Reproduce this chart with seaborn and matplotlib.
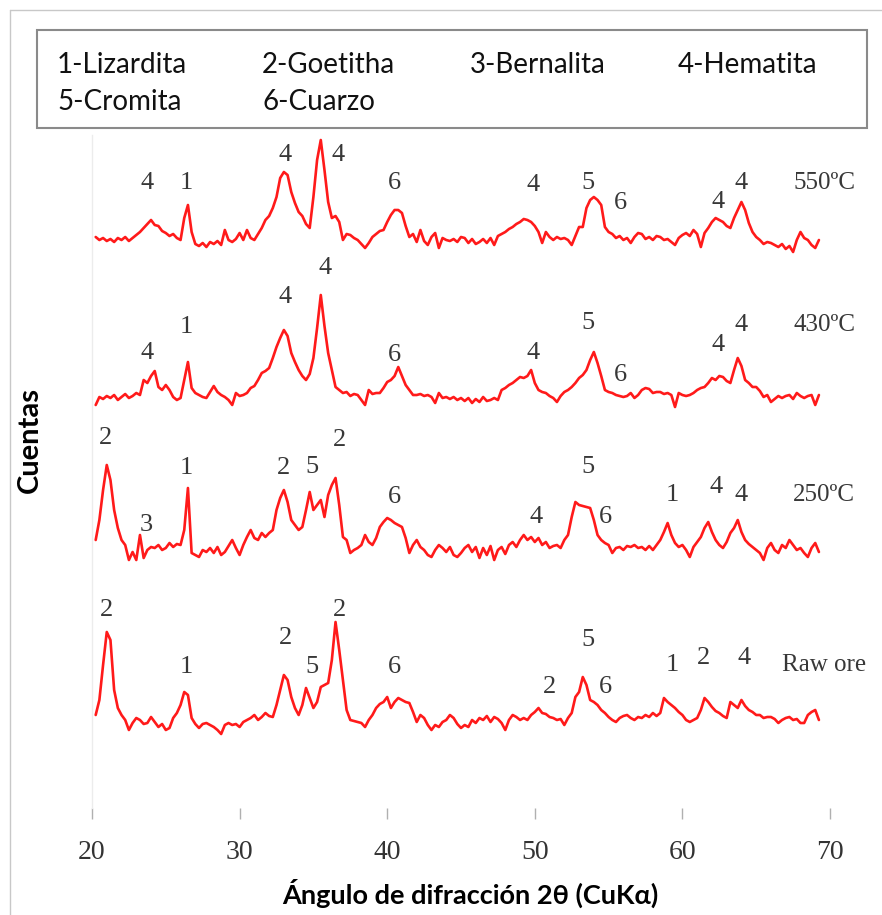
import numpy as np
import pandas as pd
import matplotlib
matplotlib.use("Agg")
import matplotlib.pyplot as plt
from matplotlib.patches import Rectangle
from matplotlib.lines import Line2D
import seaborn as sns

# 2θ sampling of the diffractograms (degrees)
angles = np.arange(20.25, 69.26, 0.25)

# Intensities above each pattern's own baseline (counts, arbitrary units)
i_550 = [3, 0, 2, -1, 1, -2, 2, 0, 3, -1, 2, 5, 8, 12, 16, 20,
         15, 14, 9, 7, 4, 6, 2, 0, 22, 35, 8, -4, -6, -3, -7, -2,
         -4, -1, -5, 10, 0, -2, 1, 7, 0, 10, 2, 0, 6, 12, 20, 24,
         32, 43, 62, 68, 65, 48, 37, 28, 24, 16, 12, 43, 80, 100, 70, 38,
         22, 24, 18, 0, 6, 5, 2, 0, -4, -8, -3, 3, 6, 9, 10, 18,
         25, 30, 30, 27, 14, 3, 6, -2, 10, -1, -5, 3, 7, -8, 2, 0,
         -1, 1, -2, 3, 2, -3, 1, -4, -2, 1, -3, 2, -5, 4, 6, 8,
         11, 13, 16, 18, 21, 20, 18, 14, 8, -3, 8, 3, 0, 3, 1, 2,
         0, -5, 4, 13, 13, 32, 40, 43, 40, 35, 13, 8, 6, 2, 4, 0,
         2, -3, 3, 7, 6, 1, 3, 0, 4, 3, 0, 1, -2, -5, 2, 5,
         7, 4, 10, 6, -7, 7, 12, 18, 22, 20, 18, 14, 12, 22, 30, 38,
         30, 17, 8, 3, 0, -4, -2, -3, -5, -7, -4, -9, -6, -12, 0, 8,
         2, 0, -5, -8, 0]

i_430 = [-7, 1, -1, 2, 0, 3, -2, 1, 4, 0, 2, 5, 3, 18, 15, 22,
         27, 11, 8, 13, 8, 1, -2, 0, 18, 36, 10, 5, 3, 1, 0, 6,
         12, 6, 3, 1, -2, -7, 5, 2, 3, 5, 10, 12, 18, 25, 27, 30,
         40, 51, 60, 68, 62, 45, 36, 28, 22, 18, 24, 40, 70, 103, 72, 45,
         28, 11, 8, 5, 6, 2, 4, 3, -2, -7, 8, 4, 5, 5, 10, 16,
         18, 22, 31, 22, 13, 8, 3, 3, 4, 2, 3, 1, -5, 5, 0, 1,
         -1, 1, -2, 0, -3, 0, -5, -1, -4, 1, -3, -2, 0, -2, 8, 10,
         13, 15, 18, 21, 20, 22, 28, 15, 8, 6, 5, 2, 0, -4, 2, 6,
         8, 11, 15, 20, 23, 28, 38, 46, 35, 22, 8, 6, 5, 3, 2, 1,
         2, 5, 0, 3, 8, 10, 9, 5, 6, 6, 4, 5, 3, -9, 5, 3,
         2, 3, 5, 8, 10, 11, 15, 20, 18, 22, 21, 17, 15, 28, 40, 32,
         18, 15, 11, 11, 7, 1, 3, -4, -1, 2, 0, 2, 3, -1, 5, 2,
         0, 2, 3, -7, 3]

i_250 = [10, 30, 60, 85, 70, 40, 22, 10, 5, -10, -2, -10, 15, -8, 0, 3,
         2, 5, 0, 2, 7, 3, 6, 5, 20, 62, -3, -5, -7, 0, -2, 2,
         -3, 3, -5, -2, 4, 10, 2, -5, 5, 13, 20, 12, 10, 17, 13, 17,
         20, 40, 52, 60, 48, 30, 25, 20, 23, 40, 58, 40, 45, 50, 33, 55,
         65, 72, 45, 13, 10, -3, 0, 2, 5, 15, 8, 5, 12, 23, 28, 32,
         30, 27, 25, 23, 12, -3, 5, 10, 3, 0, -5, -7, 0, 5, 2, -2,
         3, -5, -7, -3, 2, 5, -2, 3, -8, 2, -5, 4, -10, 0, 3, -4,
         5, 8, 3, 10, 15, 10, 13, 8, 12, 5, 8, 2, 4, 5, 2, 10,
         15, 33, 48, 45, 44, 43, 42, 30, 15, 10, 7, 5, -3, 2, 3, 0,
         4, 3, 5, 2, 3, 0, 4, 0, 5, 10, 18, 27, 15, 7, 3, 5,
         0, -7, 3, 8, 13, 22, 28, 18, 10, 5, 2, 8, 17, 22, 30, 18,
         10, 6, 3, 0, -3, -10, 2, 7, 0, -3, 5, 2, 10, 5, 0, 2,
         -3, -7, 2, 7, -2]

i_raw = [5, 20, 55, 88, 80, 30, 12, 5, 0, -10, -3, 2, 0, -4, -3, 3,
         -2, -7, -4, -10, -8, 2, 7, 15, 28, 25, 2, -4, -8, -4, -3, -5,
         -7, -10, -14, -5, -3, -5, -4, -7, -2, 0, 2, 5, 0, 3, 7, 4,
         3, 15, 30, 45, 40, 23, 12, 5, 15, 32, 22, 12, 18, 33, 35, 37,
         60, 98, 70, 40, 10, 0, -1, -2, -3, -7, 0, 5, 12, 16, 18, 23,
         12, 18, 22, 20, 18, 17, 8, -2, 5, 2, -5, -10, -5, -7, -2, 0,
         5, 2, -4, -8, -5, -7, 0, -3, 2, 0, 4, -2, 3, 1, -3, -10,
         0, 5, 3, 0, 2, 0, 5, 8, 12, 7, 6, 3, 2, 0, 1, -5,
         2, 7, 23, 28, 43, 35, 20, 18, 15, 10, 7, 3, 0, -2, 2, 4,
         5, 2, 0, 3, 2, 5, 3, 7, 4, 7, 22, 18, 15, 12, 8, 5,
         0, -2, 0, 2, 10, 22, 18, 13, 9, 7, 4, 2, 18, 15, 12, 20,
         14, 10, 8, 5, 5, 2, 3, 3, 1, -3, 0, 2, 3, 0, 1, -3,
         -3, 5, 8, 10, 0]

samples = ["550ºC", "430ºC", "250ºC", "Raw ore"]
intensities = [i_550, i_430, i_250, i_raw]

# Phase assignments: peak angle (2θ) and phase number
peaks_550_pos = [23.7, 26.4, 33.1, 36.7, 40.5, 49.9, 53.6, 55.8, 62.4, 64.0]
peaks_550_txt = ["4", "1", "4", "4", "6", "4", "5", "6", "4", "4"]
peaks_430_pos = [23.7, 26.4, 33.1, 35.8, 40.5, 49.9, 53.6, 55.8, 62.4, 64.0]
peaks_430_txt = ["4", "1", "4", "4", "6", "4", "5", "6", "4", "4"]
peaks_250_pos = [20.9, 23.7, 26.4, 33.0, 34.9, 36.8, 40.5, 50.1, 53.6, 54.8, 59.3, 62.3, 64.0]
peaks_250_txt = ["2", "3", "1", "2", "5", "2", "6", "4", "5", "6", "1", "4", "4"]
peaks_raw_pos = [21.0, 26.4, 33.1, 34.9, 36.8, 40.5, 51.0, 53.6, 54.8, 59.3, 61.4, 64.2]
peaks_raw_txt = ["2", "1", "2", "5", "2", "6", "2", "5", "6", "1", "2", "4"]

phases = ["1-Lizardita", "2-Goetitha", "3-Bernalita", "4-Hematita",
          "5-Cromita", "6-Cuarzo"]
x_ticks = [20, 30, 40, 50, 60, 70]

# ---- layout (pixels of the 882 x 915 canvas) ----
W, H = 882, 915
offsets = [568, 410, 258, 88]
label_rise = {
    "550ºC": [57, 57, 85, 85, 57, 55, 57, 37, 38, 57],
    "430ºC": [45, 71, 101, 130, 43, 45, 75, 23, 53, 73],
    "250ºC": [112, 25, 82, 82, 83, 110, 53, 33, 83, 33, 55, 63, 55],
    "Raw ore": [110, 53, 82, 53, 110, 53, 33, 80, 33, 55, 62, 62],
}
name_rise = [57, 73, 55, 55]
peak_pos = [peaks_550_pos, peaks_430_pos, peaks_250_pos, peaks_raw_pos]
peak_txt = [peaks_550_txt, peaks_430_txt, peaks_250_txt, peaks_raw_txt]

rows = []
for name, vals, off in zip(samples, intensities, offsets):
    for a, v in zip(angles, vals):
        rows.append({"angle": a, "counts": v + off, "sample": name})
df = pd.DataFrame(rows)

sns.set_theme(style="white")
plt.rcParams["font.family"] = ["Lato", "DejaVu Sans"]

fig = plt.figure(figsize=(W / 100, H / 100), dpi=100)
ax = fig.add_axes([92 / W, 1 - 808 / H, (830 - 92) / W, (808 - 135) / H])

sns.lineplot(data=df, x="angle", y="counts", hue="sample",
             palette=["#ff1a1a"] * 4, legend=False, estimator=None,
             linewidth=1.9, ax=ax)

ax.set_xlim(20, 70)
ax.set_ylim(0, 673)
ax.set_xticks(x_ticks)
ax.set_xticklabels([str(t) for t in x_ticks])
ax.set_yticks([])
ax.set_xlabel("")
ax.set_ylabel("")
for s in ["top", "right", "bottom"]:
    ax.spines[s].set_visible(False)
ax.spines["left"].set_color("#ececec")
ax.spines["left"].set_linewidth(1.0)
ax.tick_params(axis="x", bottom=True, length=8, width=1, color="#b0b0b0",
               pad=15, labelsize=20, labelcolor="#333333")
for lbl in ax.get_xticklabels():
    lbl.set_fontfamily("Liberation Serif")

serif = ["Liberation Serif", "DejaVu Serif"]
for k, name in enumerate(samples):
    off = offsets[k]
    for a, t, r in zip(peak_pos[k], peak_txt[k], label_rise[name]):
        ax.text(a, off + r, t, ha="center", va="center", fontsize=19,
                family=serif, color="#383838")
    ax.text(69.6, off + name_rise[k], name, ha="center", va="center",
            fontsize=18, family=serif, color="#383838", clip_on=False)

# legend box with phase names
fig.add_artist(Rectangle((37 / W, 1 - 128 / H), (867 - 37) / W, (128 - 30) / H,
                         transform=fig.transFigure, fill=False,
                         edgecolor="#8a8a8a", linewidth=1.5))
col_x = [57, 262, 470, 678]
row_y = [65, 102]
for i, ph in enumerate(phases):
    fig.text(col_x[i % 4] / W, 1 - row_y[i // 4] / H, ph, ha="left",
             va="center", fontsize=20, color="#111111")

# thin frame on top and left edges
fig.add_artist(Line2D([10 / W, 1], [1 - 10 / H, 1 - 10 / H],
                      transform=fig.transFigure, color="#c8c8c8", lw=1))
fig.add_artist(Line2D([10 / W, 10 / W], [0, 1 - 10 / H],
                      transform=fig.transFigure, color="#c8c8c8", lw=1))

fig.text(30 / W, 1 - 440 / H, "Cuentas", rotation=90, ha="center",
         va="center", fontsize=21, fontweight="bold", color="#000000")
fig.text(470 / W, 1 - 893 / H, "Ángulo de difracción 2θ (CuKα)",
         ha="center", va="center", fontsize=19.5, fontweight="bold",
         color="#000000")

fig.savefig("out.png", dpi=100)
